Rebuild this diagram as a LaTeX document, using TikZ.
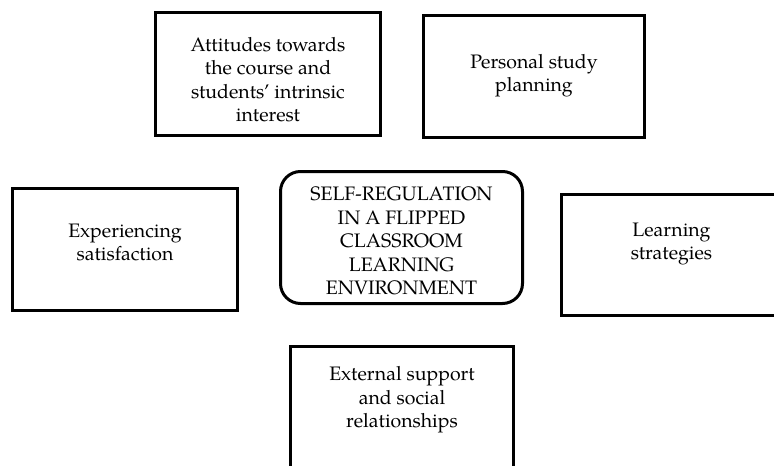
\documentclass[tikz,border=0pt]{standalone}
\usepackage{fontspec}
\setmainfont{TeX Gyre Pagella}
\begin{document}
\begin{tikzpicture}[x=1pt,y=-1pt,
  box/.style={draw, line width=3pt, inner sep=0pt, fill=white},
  lbl/.style={align=center, font=\fontsize{19.5}{23.5}\selectfont, inner sep=0pt, anchor=base}]
\useasboundingbox[fill=white] (0,0) rectangle (774,466);
% boxes
\node[box, minimum width=225pt, minimum height=123pt] (att) at (268,74) {};
\node[box, minimum width=221pt, minimum height=122pt] (pers) at (534,76.5) {};
\node[box, minimum width=225pt, minimum height=122pt] (exp) at (125,249.5) {};
\node[box, rounded corners=20pt, minimum width=242pt, minimum height=132pt] (self) at (401.5,237.5) {};
\node[box, minimum width=220pt, minimum height=121pt] (learn) at (671.5,255) {};
\node[box, minimum width=223pt, minimum height=124pt] (ext) at (402,408.5) {};
% labels (base anchor = baseline of last line)
\node[lbl] (attT) at (268,121.5) {Attitudes towards\\the course and\\students’ intrinsic\\interest};
\node[lbl] (persT) at (534,91.5) {Personal study\\planning};
\node[lbl] (expT) at (125,260.5) {Experiencing\\satisfaction};
\node[lbl] (selfT) at (401.5,294.5) {SELF-REGULATION\\IN A FLIPPED\\CLASSROOM\\LEARNING\\ENVIRONMENT};
\node[lbl] (learnT) at (671.5,259.5) {Learning\\strategies};
\node[lbl] (extT) at (402,427.5) {External support\\and social\\relationships};
\end{tikzpicture}
\end{document}
